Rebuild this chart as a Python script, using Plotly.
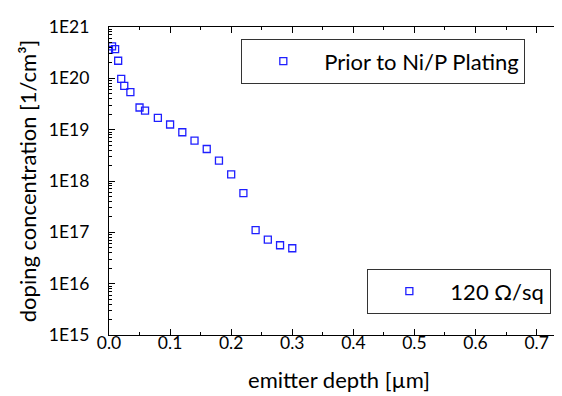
import plotly.graph_objects as go

depth_um = [0.0, 0.005, 0.01, 0.015, 0.02, 0.025, 0.035, 0.05, 0.059, 0.08, 0.10,
            0.12, 0.14, 0.16, 0.18, 0.20, 0.22, 0.24, 0.26, 0.28, 0.30]
doping = [3.6e20, 4.2e20, 3.7e20, 2.2e20, 9.8e19, 7.1e19, 5.4e19, 2.7e19, 2.35e19, 1.7e19, 1.26e19,
          8.9e18, 6.1e18, 4.2e18, 2.5e18, 1.35e18, 5.8e17, 1.1e17, 7.2e16, 5.6e16, 4.9e16]
ytick_vals = [1e15, 1e16, 1e17, 1e18, 1e19, 1e20, 1e21]
ytick_text = ["1E15", "1E16", "1E17", "1E18", "1E19", "1E20", "1E21"]
xtick_vals = [0.0, 0.1, 0.2, 0.3, 0.4, 0.5, 0.6, 0.7]
series_name = "Prior to Ni/P Plating"
sheet_label = "120 Ω/sq"

FONT = "Lato"
BLUE = "#1f1fff"
TICK_SIZE = 17.5
TITLE_SIZE = 22

marker_style = dict(symbol="square-open", size=7, color=BLUE, line=dict(width=1.3))

fig = go.Figure()
fig.add_trace(go.Scatter(
    x=depth_um, y=doping, mode="markers", name=series_name,
    marker=marker_style, legend="legend"))
fig.add_trace(go.Scatter(
    x=[None], y=[None], mode="markers", name=sheet_label,
    marker=marker_style, legend="legend2"))

axis_common = dict(showline=True, linecolor="black", linewidth=1.3, mirror="allticks",
                   ticks="inside", tickcolor="black", showgrid=False, zeroline=False,
                   tickfont=dict(family=FONT, size=TICK_SIZE, color="black"))

fig.update_layout(
    width=562, height=396,
    margin=dict(l=101, r=1, t=19, b=69),
    paper_bgcolor="white", plot_bgcolor="white",
    font=dict(family=FONT, size=TICK_SIZE, color="black"),
    xaxis=dict(range=[0, 0.753], tickvals=xtick_vals, ticklen=6,
               tickformat=".1f", ticklabelstandoff=-8,
               minor=dict(ticks="inside", ticklen=3, dtick=0.05, tickcolor="black"),
               title=dict(text="emitter depth [µm]", font=dict(family=FONT, size=TITLE_SIZE), standoff=20),
               **axis_common),
    yaxis=dict(type="log", range=[15, 21], tickvals=ytick_vals, ticktext=ytick_text, ticklen=6,
               ticklabelstandoff=15,
               minor=dict(ticks="inside", ticklen=3, dtick="D1", tickcolor="black"),
               title=dict(text="doping concentration [1/cm³]", font=dict(family=FONT, size=TITLE_SIZE), standoff=6),
               **axis_common),
    legend=dict(x=0.287, y=0.961, xanchor="left", yanchor="top",
                bordercolor="#333333", borderwidth=1.3, bgcolor="white",
                font=dict(family=FONT, size=TITLE_SIZE), itemwidth=72),
    legend2=dict(x=0.561, y=0.214, xanchor="left", yanchor="top",
                 bordercolor="#333333", borderwidth=1.3, bgcolor="white",
                 font=dict(family=FONT, size=TITLE_SIZE), itemwidth=72),
    showlegend=True,
)

fig.write_html("out.html")
